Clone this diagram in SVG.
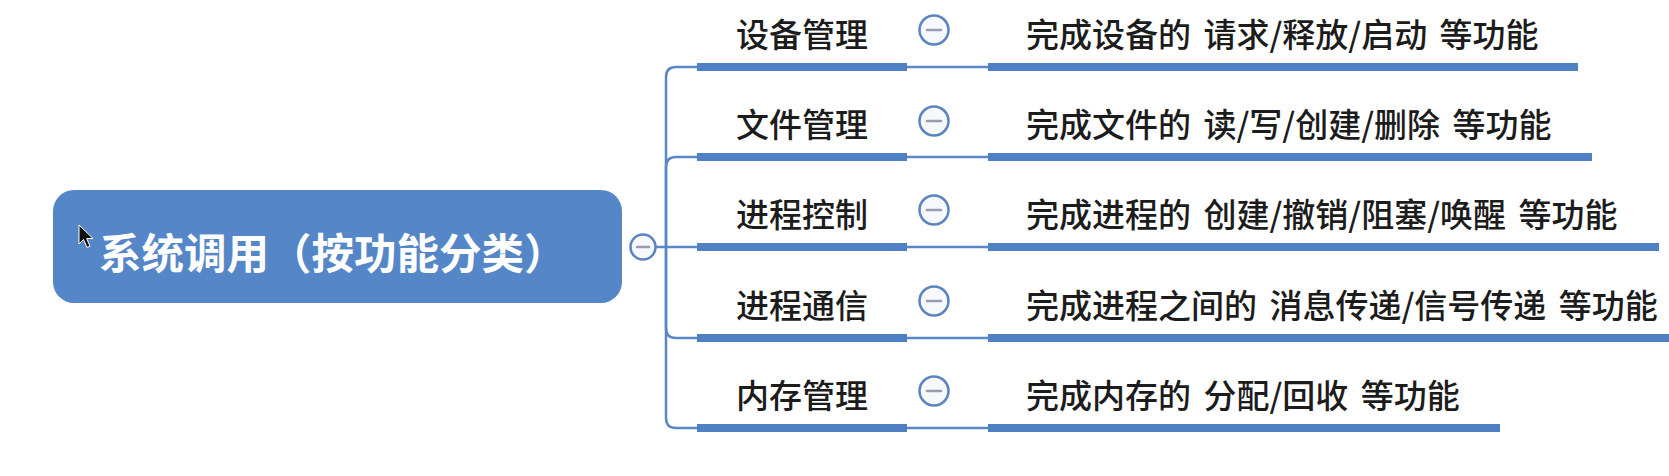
<svg xmlns="http://www.w3.org/2000/svg" width="1669" height="476" viewBox="0 0 1669 476">
<style>
.lbl{font-family:"Noto Sans CJK SC","Noto Sans",sans-serif;font-size:33px;font-weight:500;fill:#1c1c1c;dominant-baseline:central}
.desc{word-spacing:5px}
.root{font-family:"Noto Sans CJK SC","Noto Sans",sans-serif;font-size:42.5px;font-weight:bold;fill:#ffffff;dominant-baseline:central}
.bar{fill:#4f80c4}
.thin{fill:none;stroke:#5a87c5;stroke-width:2.5}
.tog{fill:#f7f8fc;stroke:#5b84be;stroke-width:2.5}
.minus{stroke:#9a9ab2;stroke-width:2.5;stroke-linecap:round}
</style>
<rect width="1669" height="476" fill="#ffffff"/>
<g id="connectors">
<path class="thin" d="M656 247 H666"/>
<path class="thin" d="M666 247 V77 Q666 67 676 67 H697"/>
<path class="thin" d="M666 247 V167 Q666 157 676 157 H697"/>
<path class="thin" d="M666 247 H697"/>
<path class="thin" d="M666 247 V328 Q666 338 676 338 H697"/>
<path class="thin" d="M666 247 V418 Q666 428 676 428 H697"/>
<path class="thin" d="M907 67 H988 M907 157 H988 M907 247 H988 M907 338 H988 M907 428 H988"/>
</g>
<g id="root">
<rect x="53" y="190" width="569" height="113" rx="21" fill="#5586c8"/>
<text class="root" x="99" y="250">系统调用（按功能分类）</text>
<circle class="tog" cx="643" cy="247" r="12.5"/>
<line class="minus" x1="637" y1="247" x2="649" y2="247"/>
<path d="M79 225 V244 L83.5 239.5 L87 247.5 L90 246.2 L86.7 238.5 L93 238.5 Z" fill="#111" stroke="#fff" stroke-width="1"/>
</g>
<g id="n1">
<rect class="bar" x="697" y="63" width="210" height="8"/>
<text class="lbl" x="736" y="33">设备管理</text>
<circle class="tog" cx="934" cy="30" r="14.5"/>
<line class="minus" x1="927" y1="30" x2="941" y2="30"/>
</g>
<g id="d1">
<rect class="bar" x="988" y="63" width="590" height="8"/>
<text class="lbl desc" x="1026" y="33">完成设备的 请求/释放/启动 等功能</text>
</g>
<g id="n2">
<rect class="bar" x="697" y="153" width="210" height="8"/>
<text class="lbl" x="736" y="123">文件管理</text>
<circle class="tog" cx="934" cy="121" r="14.5"/>
<line class="minus" x1="927" y1="121" x2="941" y2="121"/>
</g>
<g id="d2">
<rect class="bar" x="988" y="153" width="604" height="8"/>
<text class="lbl desc" x="1026" y="123">完成文件的 读/写/创建/删除 等功能</text>
</g>
<g id="n3">
<rect class="bar" x="697" y="243" width="210" height="8"/>
<text class="lbl" x="736" y="213">进程控制</text>
<circle class="tog" cx="934" cy="210" r="14.5"/>
<line class="minus" x1="927" y1="210" x2="941" y2="210"/>
</g>
<g id="d3">
<rect class="bar" x="988" y="243" width="671" height="8"/>
<text class="lbl desc" x="1026" y="213">完成进程的 创建/撤销/阻塞/唤醒 等功能</text>
</g>
<g id="n4">
<rect class="bar" x="697" y="334" width="210" height="8"/>
<text class="lbl" x="736" y="304">进程通信</text>
<circle class="tog" cx="934" cy="301" r="14.5"/>
<line class="minus" x1="927" y1="301" x2="941" y2="301"/>
</g>
<g id="d4">
<rect class="bar" x="988" y="334" width="690" height="8"/>
<text class="lbl desc" x="1026" y="304">完成进程之间的 消息传递/信号传递 等功能</text>
</g>
<g id="n5">
<rect class="bar" x="697" y="424" width="210" height="8"/>
<text class="lbl" x="736" y="394">内存管理</text>
<circle class="tog" cx="934" cy="391" r="14.5"/>
<line class="minus" x1="927" y1="391" x2="941" y2="391"/>
</g>
<g id="d5">
<rect class="bar" x="988" y="424" width="512" height="8"/>
<text class="lbl desc" x="1026" y="394">完成内存的 分配/回收 等功能</text>
</g>
</svg>
